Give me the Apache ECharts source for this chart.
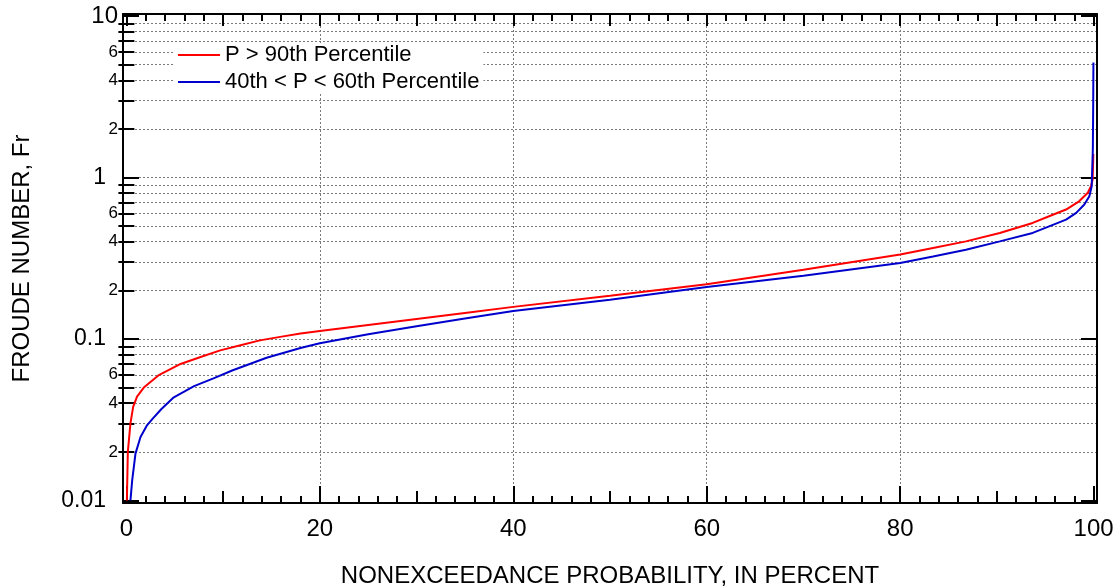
<!DOCTYPE html>
<html>
<head>
<meta charset="utf-8">
<script src="https://cdn.jsdelivr.net/npm/echarts@6/dist/echarts.min.js"></script>
<style>
html,body{margin:0;padding:0;background:#fff;}
#chart{width:1118px;height:588px;}
</style>
</head>
<body>
<div id="chart"></div>
<script>
// ---- data ----
const redX  = [0.05, 0.15, 0.42, 0.7, 1.1, 1.8, 3.4, 5.6, 7.6, 9.7, 11.8, 13.8, 15.9, 18, 20, 25, 30, 35, 40, 50, 60, 70, 80, 83.4, 86.8, 90.3, 93.7, 95.4, 97.15, 98.5, 99.4, 99.73, 99.9, 99.97];
const redY  = [0.01, 0.02, 0.03, 0.038, 0.044, 0.05, 0.06, 0.07, 0.077, 0.085, 0.0915, 0.098, 0.103, 0.108, 0.112, 0.122, 0.133, 0.145, 0.158, 0.185, 0.218, 0.268, 0.333, 0.366, 0.402, 0.453, 0.523, 0.575, 0.633, 0.712, 0.804, 0.883, 0.972, 1.4];
const blueX = [0.42, 0.6, 0.94, 1.46, 2.15, 2.7, 3.6, 4.9, 7, 9, 11, 14.5, 18, 20, 25, 30, 35, 40, 50, 60, 70, 80, 83.4, 86.8, 90.3, 93.7, 95.4, 97.15, 98.2, 99.04, 99.56, 99.8, 99.92, 99.96, 99.98];
const blueY = [0.01, 0.0133, 0.0195, 0.0247, 0.0293, 0.032, 0.0367, 0.0435, 0.051, 0.057, 0.064, 0.0765, 0.088, 0.094, 0.107, 0.12, 0.134, 0.149, 0.175, 0.21, 0.246, 0.295, 0.3245, 0.357, 0.402, 0.4535, 0.498, 0.548, 0.604, 0.68, 0.766, 0.883, 1.49, 3.0, 5.16];
const seriesNames = ['P > 90th Percentile', '40th < P < 60th Percentile'];

const xLabelTicks = [0, 20, 40, 60, 80, 100];
const xMidTicks = [10, 30, 50, 70, 90];
const xMinorTicks = [2,4,6,8,12,14,16,18,22,24,26,28,32,34,36,38,42,44,46,48,52,54,56,58,62,64,66,68,72,74,76,78,82,84,86,88,92,94,96,98];
const xGridValues = [20, 40, 60, 80];

const yMajorTicks = [0.01, 0.1, 1, 10];
const yMajorLabels = [0.01, 0.1, 1];
const yMinorTicks = [0.02,0.03,0.04,0.05,0.06,0.07,0.08,0.09,0.2,0.3,0.4,0.5,0.6,0.7,0.8,0.9,2,3,4,5,6,7,8,9];
const yMinorLabels = [0.02, 0.04, 0.06, 0.2, 0.4, 0.6, 2, 4, 6, 10];
const yGridValues = [0.02,0.03,0.04,0.05,0.06,0.07,0.08,0.09,0.1,0.2,0.3,0.4,0.5,0.6,0.7,0.8,0.9,1,2,3,4,5,6,7,8,9];

const X_MIN = -0.35, X_MAX = 100.35;
const Y_MIN = 0.00964, Y_MAX = 10.29;

// ---- helpers ----
const FONT = 'Liberation Sans';
function pairs(xs, ys) { return xs.map((x, i) => [x, ys[i]]); }
function fmtNum(v) {
  const r = Math.round(v * 1000) / 1000;
  return String(r);
}
function firstDigit(v) {
  if (Math.abs(v - 10) < 1e-9) return '{big|10}';
  const e = Math.floor(Math.log10(v) + 1e-9);
  return String(Math.round(v / Math.pow(10, e)));
}

function xAxisDef(pos, ticks, len, opts) {
  return Object.assign({
    type: 'value', min: X_MIN, max: X_MAX, position: pos,
    axisLine: { show: false },
    axisTick: { show: true, inside: true, length: len, customValues: ticks,
                lineStyle: { color: '#000', width: 2 } },
    axisLabel: { show: false },
    splitLine: { show: false }
  }, opts || {});
}
function yAxisDef(pos, ticks, len, opts) {
  return Object.assign({
    type: 'log', logBase: 10, min: Y_MIN, max: Y_MAX, position: pos,
    axisLine: { show: false },
    axisTick: { show: true, inside: true, length: len, customValues: ticks,
                lineStyle: { color: '#000', width: 2 } },
    axisLabel: { show: false },
    splitLine: { show: false }
  }, opts || {});
}

const gridDotted = { show: true, lineStyle: { color: '#7a7a7a', width: 1, type: [2, 2] } };

const chart = echarts.init(document.getElementById('chart'), null, { renderer: 'canvas' });
const option = {
  backgroundColor: '#fff',
  animation: false,
  textStyle: { fontFamily: FONT },
  grid: { left: 123, right: 21, top: 14, bottom: 85, containLabel: false, outerBoundsMode: 'none' },
  xAxis: [
    xAxisDef('bottom', xLabelTicks, 17, {
      axisLine: { show: true, onZero: false, lineStyle: { color: '#000', width: 2 } },
      axisLabel: { show: true, customValues: xLabelTicks, fontSize: 24, color: '#000', margin: 14,
                   fontFamily: FONT, formatter: v => fmtNum(v) },
      name: 'NONEXCEEDANCE PROBABILITY, IN PERCENT', nameLocation: 'middle', nameGap: 61,
      nameTextStyle: { fontSize: 24, color: '#000', fontFamily: FONT }
    }),
    xAxisDef('bottom', xMidTicks, 12),
    xAxisDef('bottom', xMinorTicks, 7),
    xAxisDef('top', xLabelTicks.concat(xMidTicks), 12, {
      axisLine: { show: true, onZero: false, lineStyle: { color: '#000', width: 2 } }
    }),
    xAxisDef('top', xMinorTicks, 7),
    xAxisDef('bottom', xGridValues, 0, {
      axisTick: { show: false, customValues: xGridValues },
      splitLine: gridDotted
    })
  ],
  yAxis: [
    yAxisDef('left', yMajorTicks, 16, {
      axisLine: { show: true, onZero: false, lineStyle: { color: '#000', width: 2 } },
      axisLabel: { show: true, customValues: yMajorLabels, fontSize: 23, color: '#000', margin: 17,
                   fontFamily: FONT, formatter: v => fmtNum(v) },
      name: 'FROUDE NUMBER, Fr', nameLocation: 'middle', nameGap: 89,
      nameTextStyle: { fontSize: 24, color: '#000', fontFamily: FONT }
    }),
    yAxisDef('left', yMinorTicks, 8, {
      axisLabel: { show: true, customValues: yMinorLabels, fontSize: 17, color: '#000', margin: 5,
                   fontFamily: FONT, formatter: firstDigit,
                   rich: { big: { fontSize: 24, fontFamily: FONT, color: '#000' } } }
    }),
    yAxisDef('right', yMajorTicks, 16, {
      axisLine: { show: true, onZero: false, lineStyle: { color: '#000', width: 2 } }
    }),
    yAxisDef('right', yMinorTicks, 8),
    yAxisDef('left', yGridValues, 0, {
      axisTick: { show: false, customValues: yGridValues },
      splitLine: gridDotted
    })
  ],
  legend: {
    show: true,
    left: 175, top: 43,
    orient: 'vertical',
    backgroundColor: '#fff',
    padding: [1, 4, 1, 3],
    itemWidth: 42, itemHeight: 20, itemGap: 5, itemTextGap: 12,
    icon: 'path://M0,9 L42,9 L42,11 L0,11 Z',
    textStyle: { fontSize: 22, color: '#000', fontFamily: FONT },
    data: seriesNames
  },
  series: [
    {
      name: seriesNames[0], type: 'line', xAxisIndex: 0, yAxisIndex: 0,
      data: pairs(redX, redY), showSymbol: false, symbol: 'none', smooth: false,
      lineStyle: { color: '#ff0000', width: 2 }, itemStyle: { color: '#ff0000' }, z: 4
    },
    {
      name: seriesNames[1], type: 'line', xAxisIndex: 0, yAxisIndex: 0,
      data: pairs(blueX, blueY), showSymbol: false, symbol: 'none', smooth: false,
      lineStyle: { color: '#0000cc', width: 2 }, itemStyle: { color: '#0000cc' }, z: 5
    }
  ]
};
chart.setOption(option);
</script>
</body>
</html>
